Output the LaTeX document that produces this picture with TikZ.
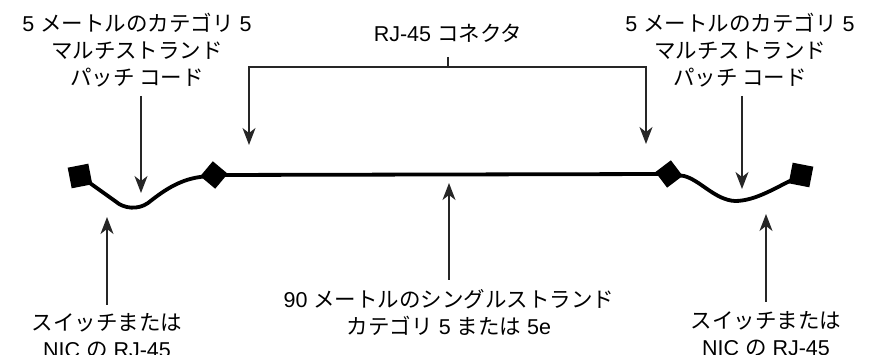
\documentclass[tikz,border=0pt]{standalone}
\usepackage{fontspec}
\setmainfont{Liberation Sans}
\newfontfamily\cjk{Noto Sans CJK JP}
\usetikzlibrary{arrows.meta}
\tikzset{
  lbl/.style={font=\fontsize{21.5}{27}\selectfont, align=center, inner sep=0pt},
  wire/.style={draw=black!85, line width=1.3pt},
  ptr/.style={wire, -{Stealth[length=17pt,width=13pt,inset=5pt]}},
  plug/.style={shape=rectangle, fill=black, minimum size=21pt, inner sep=0pt},
  cable/.style={draw=black, line width=3.8pt, line join=round}
}
\begin{document}
\begin{tikzpicture}[x=1pt,y=-1pt]
\useasboundingbox (0,0) rectangle (871,355);
% labels
\node[lbl] (tl) at (137,50) {5 {\cjk メートルのカテゴリ} 5\\{\cjk マルチストランド}\\{\cjk パッチ コード}};
\node[lbl] (tr) at (740,50) {5 {\cjk メートルのカテゴリ} 5\\{\cjk マルチストランド}\\{\cjk パッチ コード}};
\node[lbl] (rj) at (448,33) {RJ-45 {\cjk コネクタ}};
\node[lbl] (bm) at (449,312) {90 {\cjk メートルのシングルストランド}\\{\cjk カテゴリ} 5 {\cjk または} 5e};
\node[lbl] (bl) at (107,336) {{\cjk スイッチまたは}\\NIC {\cjk の} RJ-45};
\node[lbl] (br) at (766,334) {{\cjk スイッチまたは}\\NIC {\cjk の} RJ-45};
% plugs
\node[plug, rotate=11] (lsq) at (80,176) {};
\node[plug, rotate=50, minimum size=19.5pt] (ldia) at (214,175) {};
\node[plug, rotate=37, minimum size=19.5pt] (rdia) at (669,174) {};
\node[plug, rotate=-11] (rsq) at (801,175) {};
% cables
\draw[cable] (lsq.center) -- (115,201) .. controls (124,209) and (138,210) .. (148,203)
  .. controls (162,192) and (178,180) .. (200,177) -- (ldia.center);
\draw[cable] (ldia.center) -- (rdia.center);
\draw[cable] (rdia.center) -- (684,176) .. controls (700,180) and (715,200) .. (735,201)
  .. controls (755,201) and (775,188) .. (792,180) -- (rsq.center);
% arrow coordinates
\coordinate (a1s) at (141,96);  \coordinate (a1e) at (141,193);
\coordinate (a2s) at (742,96);  \coordinate (a2e) at (742,189);
\coordinate (bt) at (448,57);   \coordinate (bj) at (448,67);
\coordinate (bl1) at (249,67);  \coordinate (bl2) at (249,145);
\coordinate (br1) at (646,67);  \coordinate (br2) at (646,144);
\coordinate (c1s) at (107,305); \coordinate (c1e) at (107,217);
\coordinate (c2s) at (449,280); \coordinate (c2e) at (449,183);
\coordinate (c3s) at (766,302); \coordinate (c3e) at (766,214);
% arrows
\draw[ptr] (a1s) -- (a1e);
\draw[ptr] (a2s) -- (a2e);
\draw[wire] (bt) -- (bj);
\draw[ptr] (bj) -- (bl1) -- (bl2);
\draw[ptr] (bj) -- (br1) -- (br2);
\draw[ptr] (c1s) -- (c1e);
\draw[ptr] (c2s) -- (c2e);
\draw[ptr] (c3s) -- (c3e);
\end{tikzpicture}
\end{document}
